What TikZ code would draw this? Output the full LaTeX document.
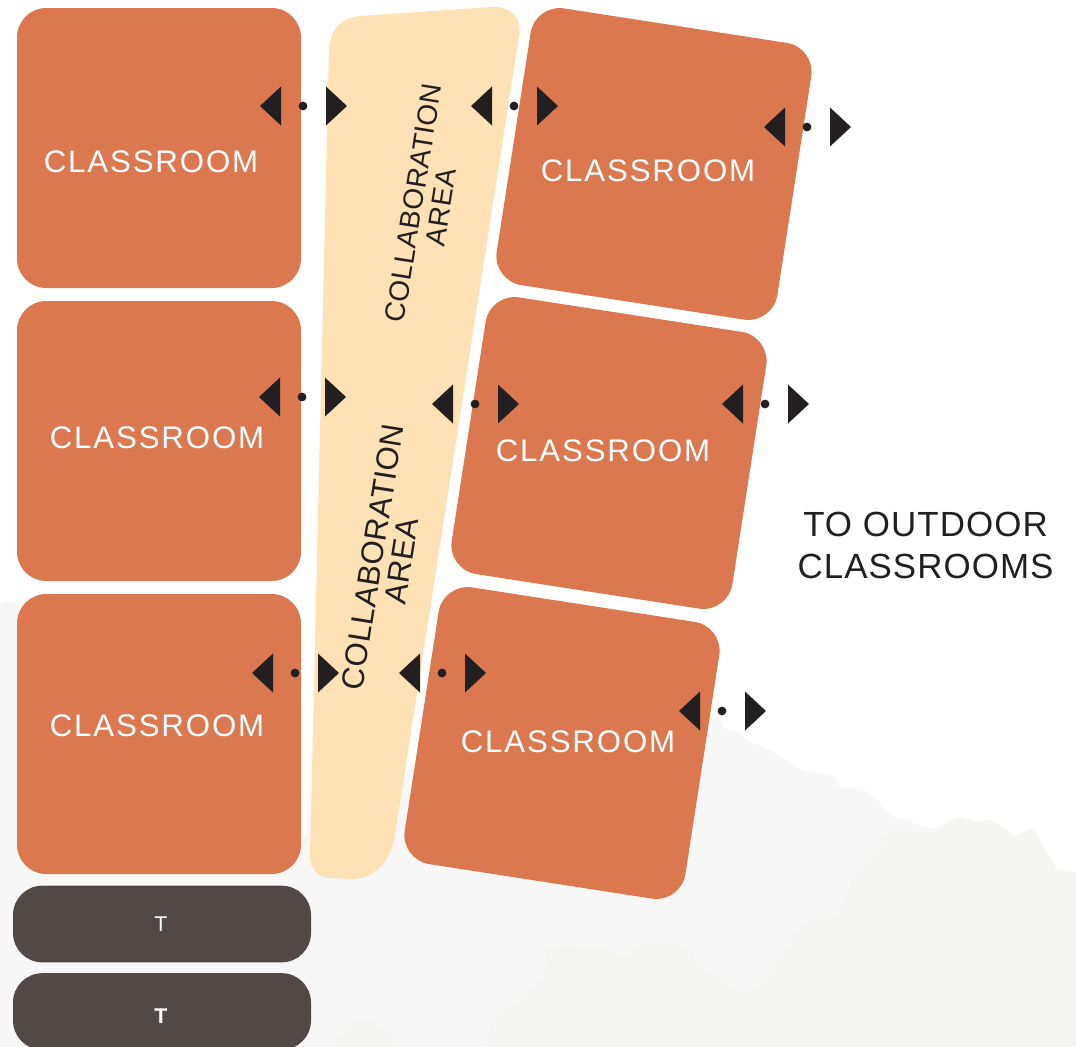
\documentclass[tikz,border=0pt]{standalone}
\usepackage{fontspec}
\usepackage{xcolor}
\usetikzlibrary{positioning}
\setmainfont{Liberation Sans}
\newfontfamily\roomfont[LetterSpace=6]{Liberation Sans}
\newfontfamily\signfont[LetterSpace=3]{Liberation Sans}
\newfontfamily\areafont[LetterSpace=1.5]{Liberation Sans}
\definecolor{roomorange}{HTML}{DC7850}
\definecolor{areapeach}{HTML}{FEE2B5}
\definecolor{teacherbrown}{HTML}{524845}
\definecolor{inkblack}{HTML}{231F20}
\definecolor{hillpale}{HTML}{F7F7F7}
\definecolor{hillgrey}{HTML}{F5F5F3}
\tikzset{
  room/.style={rectangle, fill=roomorange, rounded corners=22pt, inner sep=0pt, minimum width=213pt, minimum height=210pt},
  teacher/.style={rectangle, fill=teacherbrown, rounded corners=22pt, inner sep=0pt, minimum width=223.5pt, minimum height=57.5pt},
  roomlabel/.style={text=white, font=\roomfont\fontsize{23.4}{27}\selectfont},
  doorway/.pic={
    \fill[inkblack] (-43,0) -- (-22,-19.5) -- (-22,19.5) -- cycle;
    \fill[inkblack] (44,0) -- (23,-19.5) -- (23,19.5) -- cycle;
    \fill[inkblack] (0,0) circle (3.3pt);
  }
}
\begin{document}
\begin{tikzpicture}[x=0.75pt, y=-0.75pt]
\useasboundingbox (0,0) rectangle (1076,1047);
\clip (0,0) rectangle (1076,1047);

% Hills behind the plan
\fill[hillpale] plot[smooth, tension=0.4] coordinates {(-5,612) (17,604) (150,700) (300,833) (310,813) (395,778) (405,773) (560,700) (712,718) (723,728) (738,732) (750,742) (770,750) (803,770) (833,775) (840,787) (860,788) (877,800) (893,817) (910,820) (917,825) (937,828) (957,817) (977,822) (990,820) (1005,828) (1015,837) (1033,828) (1040,840) (1057,868) (1081,873)} -- (1081,1052) -- (-5,1052) -- cycle;
\fill[hillgrey] plot[smooth, tension=0.4] coordinates {(1081,873) (1057,868) (1040,840) (1033,828) (1015,837) (1005,828) (990,820) (977,822) (957,817) (937,832) (890,832) (880,847) (857,872) (843,903) (833,917) (807,922) (780,957) (767,977) (743,995) (727,980) (697,967) (690,950) (653,940) (627,955) (600,947) (550,947) (543,977) (523,997) (492,1023) (487,1052)} -- (1081,1052) -- cycle;
\fill[hillgrey] plot[smooth, tension=0.6] coordinates {(325,1052) (345,1030) (367,1018) (385,1030) (405,1052)} -- cycle;

% Collaboration strip
\fill[areapeach] (360,16) -- (492,7) .. controls (510,6) and (523,18) .. (519,36) -- (395,835) .. controls (391,860) and (375,879) .. (353,879) -- (329,878) .. controls (317,877) and (310,868) .. (310,855) -- (329,48) .. controls (330,30) and (343,17) .. (360,16) -- cycle;

% Left wing
\node[room] (roomA) at (159,148) {};
\node[room] (roomB) at (159,441) {};
\node[room] (roomC) at (159,734) {};
\node[teacher] (teacherA) at (162,924) {};
\node[teacher] (teacherB) at (162,1011.5) {};

% Right wing
\node[room, rotate=-8.8] (roomD) at (654,164) {};
\node[room, rotate=-8.8] (roomE) at (609,453) {};
\node[room, rotate=-8.8] (roomF) at (562,743) {};

% Labels
\node[roomlabel] (labelA) at (151,162) {CLASSROOM};
\node[roomlabel] (labelB) at (157,438) {CLASSROOM};
\node[roomlabel] (labelC) at (157,726) {CLASSROOM};
\node[roomlabel] (labelD) at (648,171) {CLASSROOM};
\node[roomlabel] (labelE) at (603,451) {CLASSROOM};
\node[roomlabel] (labelF) at (568,742) {CLASSROOM};
\node[text=white, font=\fontsize{16}{19}\selectfont] (labelT) at (161,924) {T};
\node[text=white, font=\bfseries\fontsize{16}{19}\selectfont] (labelU) at (161,1016) {T};

\node[text=inkblack, rotate=81, align=center, font=\areafont\fontsize{21}{21}\selectfont] (areaA) at (427,205) {COLLABORATION\\AREA};
\node[text=inkblack, rotate=81, align=center, font=\areafont\fontsize{23.4}{22}\selectfont] (areaB) at (387,559) {COLLABORATION\\AREA};
\node[text=inkblack, align=center, font=\signfont\fontsize{26.2}{31.5}\selectfont] (outdoor) at (925.5,545) {TO OUTDOOR\\CLASSROOMS};

% Doors
\pic (doorA) at (303,106) {doorway};
\pic (doorB) at (514,106) {doorway};
\pic (doorC) at (807,127) {doorway};
\pic (doorD) at (302,397) {doorway};
\pic (doorE) at (475,404) {doorway};
\pic (doorF) at (765,404) {doorway};
\pic (doorG) at (295,673) {doorway};
\pic (doorH) at (442,673) {doorway};
\pic (doorI) at (722,711) {doorway};
\end{tikzpicture}
\end{document}
